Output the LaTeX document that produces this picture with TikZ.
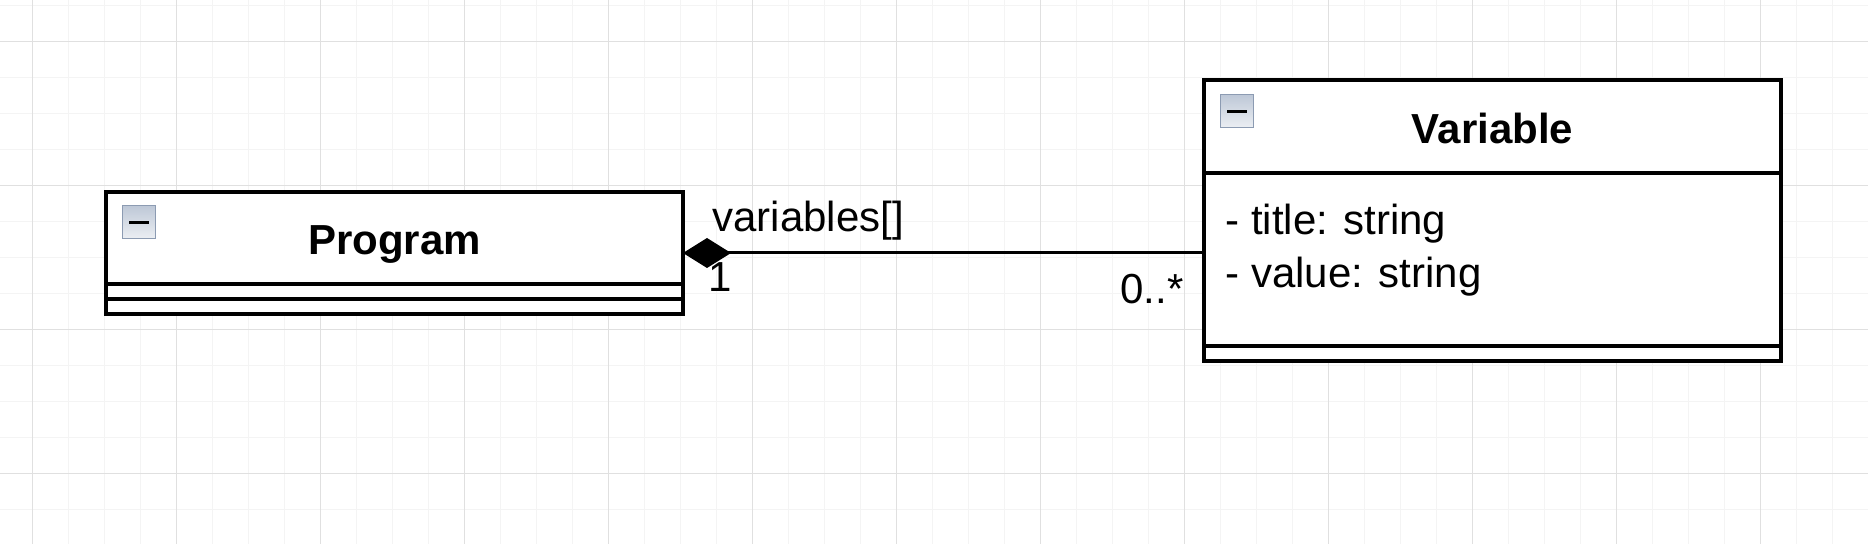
\documentclass[tikz,border=0pt]{standalone}
\usepackage{fontspec}
\setmainfont{Liberation Sans}
\usetikzlibrary{arrows.meta,positioning,calc}
\definecolor{gridminor}{RGB}{244,244,244}
\definecolor{gridmajor}{RGB}{224,224,224}
\definecolor{iconedge}{RGB}{140,155,178}
\definecolor{icontop}{RGB}{190,200,215}
\definecolor{iconbot}{RGB}{236,239,243}
\tikzset{
  classhead/.style={draw, line width=1.75pt, fill=white, minimum width=288.5pt,
    inner sep=0pt, outer sep=0pt, text height=17pt, text depth=0pt,
    font=\bfseries\fontsize{21}{25}\selectfont, anchor=north west},
  compart/.style={draw, line width=1.75pt, fill=white, minimum width=288.5pt,
    inner sep=0pt, outer sep=0pt, anchor=north},
  attrtext/.style={inner sep=0pt, anchor=base west, font=\fontsize{21}{25}\selectfont},
  roletext/.style={inner sep=0pt, font=\fontsize{21}{25}\selectfont},
  minusicon/.style={draw=iconedge, line width=0.5pt, top color=icontop, bottom color=iconbot,
    minimum size=16.5pt, inner sep=0pt, outer sep=0pt, anchor=north west,
    path picture={\draw[black, line width=1.7pt]
      ([xshift=3.5pt]path picture bounding box.west) --
      ([xshift=-3pt]path picture bounding box.east);}},
}

\begin{document}
\begin{tikzpicture}[x=0.5pt, y=-0.5pt]
\useasboundingbox (0,0) rectangle (1868,544);
% Grid background
\fill[white] (0,0) rectangle (1868,544);
\foreach \gx in {-3.3,32.7,...,1870} \draw[gridminor, line width=0.75pt] (\gx,0) -- (\gx,544);
\foreach \gy in {5.7,41.7,...,546} \draw[gridminor, line width=0.75pt] (0,\gy) -- (1868,\gy);
\foreach \gx in {32.7,176.7,...,1870} \draw[gridmajor, line width=0.75pt] (\gx,0) -- (\gx,544);
\foreach \gy in {41.7,185.7,...,546} \draw[gridmajor, line width=0.75pt] (0,\gy) -- (1868,\gy);
% Program class
\node[classhead, minimum height=46pt] (prog) at (106,192) {Program};
\node[compart, minimum height=7.5pt] (progattr) at (prog.south) {};
\node[compart, minimum height=7.5pt] (progops) at (progattr.south) {};
\node[minusicon] (progicon) at (122,206) {};
% Variable class
\node[classhead, minimum height=46.5pt] (var) at (1204,80) {Variable};
\node[compart, minimum height=86.5pt] (varattr) at (var.south) {};
\node[compart, minimum height=7.5pt] (varops) at (varattr.south) {};
\node[minusicon] (varicon) at (1220,95) {};
\node[attrtext] (attrtitle) at (1225,235) {- title: string};
\node[attrtext] (attrvalue) at (1225,288) {- value: string};
% Composition
\coordinate (progside) at ($(prog.north east)!0.5!(progops.south east)$);
\draw[line width=1.5pt, {Diamond[length=24pt,width=15pt]}-] (progside) -- (progside -| varattr.west);
\node[roletext, anchor=base west] (rolename) at (712,232) {variables[]};
\node[roletext, anchor=base west] (multprog) at (708,292) {1};
\node[roletext, anchor=base east] (multvar) at (1184,304) {0..*};
\end{tikzpicture}
\end{document}
